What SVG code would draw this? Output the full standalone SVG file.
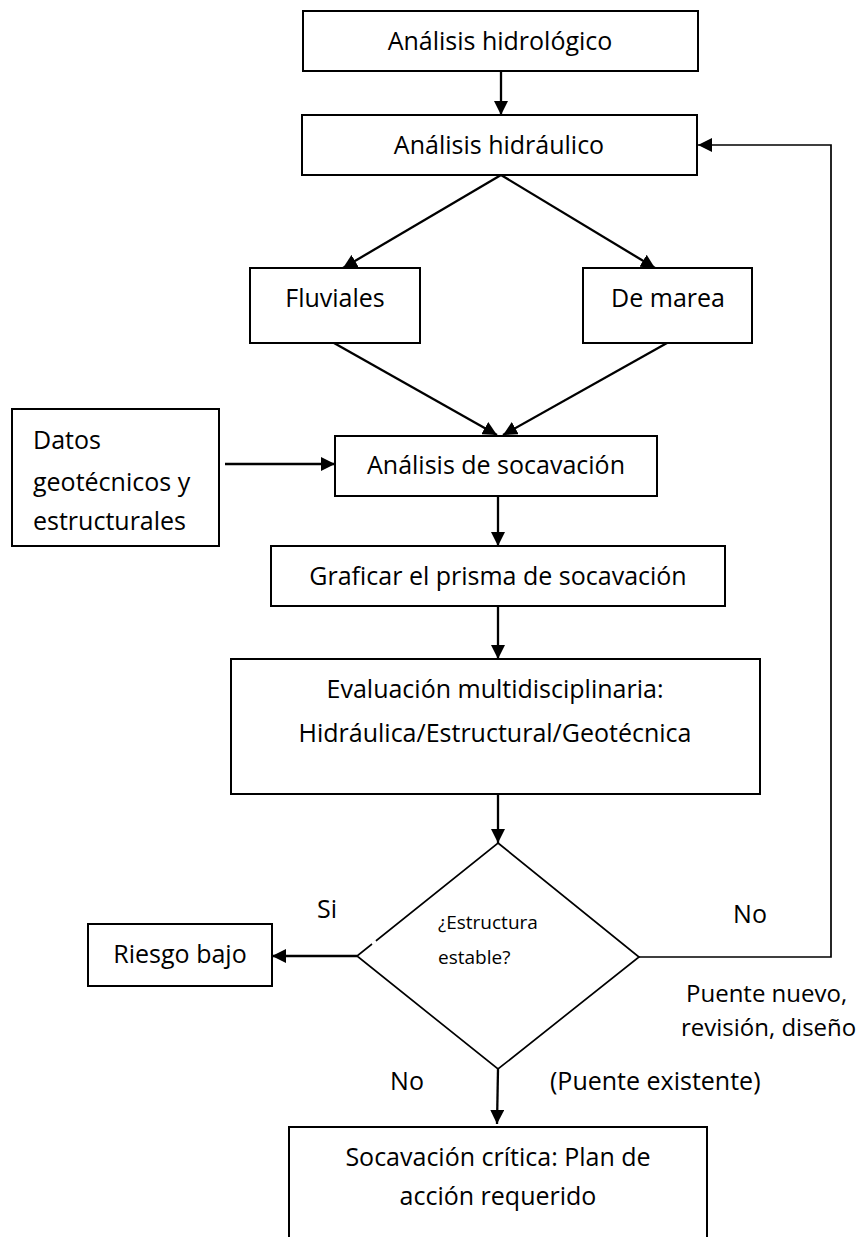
<svg xmlns="http://www.w3.org/2000/svg" width="866" height="1237" viewBox="0 0 866 1237">
<style>
.box{fill:#fff;stroke:#000;stroke-width:2}
.t{font-family:"Open Sans","Noto Sans","Liberation Sans",sans-serif;font-size:25px;fill:#000}
.c{text-anchor:middle}
.s{font-size:19px}
.m{font-size:24px}
.ln{fill:none;stroke:#000;stroke-width:2.3}
.thin{fill:none;stroke:#000;stroke-width:1.7}
</style>
<defs>
<marker id="ah" markerUnits="userSpaceOnUse" markerWidth="14" markerHeight="14" refX="14" refY="7" orient="auto" viewBox="0 0 14 14">
<path d="M0,0 L14,7 L0,14 z" fill="#000"/>
</marker>
</defs>
<g id="connectors">
<line class="ln" x1="501" y1="71" x2="501" y2="115" marker-end="url(#ah)"/>
<line class="ln" x1="501" y1="175" x2="343" y2="268" marker-end="url(#ah)"/>
<line class="ln" x1="501" y1="175" x2="655" y2="268" marker-end="url(#ah)"/>
<line class="ln" x1="334" y1="343" x2="497" y2="435" marker-end="url(#ah)"/>
<line class="ln" x1="667" y1="343" x2="503" y2="435" marker-end="url(#ah)"/>
<line class="ln" x1="225" y1="464" x2="335" y2="464" marker-end="url(#ah)"/>
<line class="ln" x1="498" y1="496" x2="498" y2="546" marker-end="url(#ah)"/>
<line class="ln" x1="498" y1="606" x2="498" y2="659" marker-end="url(#ah)"/>
<line class="ln" x1="498" y1="794" x2="498" y2="843" marker-end="url(#ah)"/>
<line class="ln" x1="357" y1="956" x2="272" y2="956" marker-end="url(#ah)"/>
<line class="ln" x1="498" y1="1069" x2="497" y2="1124" marker-end="url(#ah)"/>
<polyline class="thin" points="639,957 831,957 831,145 698,145" marker-end="url(#ah)"/>
</g>
<g id="n-hidrologico">
<rect class="box" x="303" y="11" width="395" height="60"/>
<text class="t c" x="500" y="50">Análisis hidrológico</text>
</g>
<g id="n-hidraulico">
<rect class="box" x="302" y="115" width="395" height="60"/>
<text class="t c" x="499" y="154">Análisis hidráulico</text>
</g>
<g id="n-fluviales">
<rect class="box" x="250" y="268" width="170" height="75"/>
<text class="t c" x="335" y="307">Fluviales</text>
</g>
<g id="n-marea">
<rect class="box" x="583" y="268" width="169" height="75"/>
<text class="t c" x="668" y="307">De marea</text>
</g>
<g id="n-datos">
<rect class="box" x="12" y="409" width="207" height="137"/>
<text class="t" x="33" y="449">Datos</text>
<text class="t" x="33" y="491">geotécnicos y</text>
<text class="t" x="33" y="530">estructurales</text>
</g>
<g id="n-socavacion">
<rect class="box" x="335" y="436" width="322" height="60"/>
<text class="t c" x="496" y="474">Análisis de socavación</text>
</g>
<g id="n-graficar">
<rect class="box" x="271" y="546" width="454" height="60"/>
<text class="t c" x="498" y="585">Graficar el prisma de socavación</text>
</g>
<g id="n-evaluacion">
<rect class="box" x="231" y="659" width="529" height="135"/>
<text class="t c" x="495" y="698">Evaluación multidisciplinaria:</text>
<text class="t c" x="495" y="742">Hidráulica/Estructural/Geotécnica</text>
</g>
<g id="n-decision">
<polygon class="thin" points="498,843 639,957 498,1069 357,956" fill="#fff"/>
<line x1="372" y1="944" x2="376" y2="941" stroke="#fff" stroke-width="3"/>
<text class="t s" x="438" y="929">¿Estructura</text>
<text class="t s" x="438" y="964">estable?</text>
</g>
<g id="n-riesgo">
<rect class="box" x="88" y="924" width="184" height="62"/>
<text class="t c" x="180" y="963">Riesgo bajo</text>
</g>
<g id="n-critica">
<path class="box" d="M289,1240 V1127 H707 V1240"/>
<text class="t c" x="498" y="1166">Socavación crítica: Plan de</text>
<text class="t c" x="498" y="1205">acción requerido</text>
</g>
<g id="labels">
<text class="t c" x="327" y="918">Si</text>
<text class="t c" x="750" y="923">No</text>
<text class="t m" x="686" y="1002">Puente nuevo,</text>
<text class="t m" x="681" y="1036">revisión, diseño</text>
<text class="t" x="550" y="1090">(Puente existente)</text>
<text class="t c" x="407" y="1090">No</text>
</g>
</svg>
